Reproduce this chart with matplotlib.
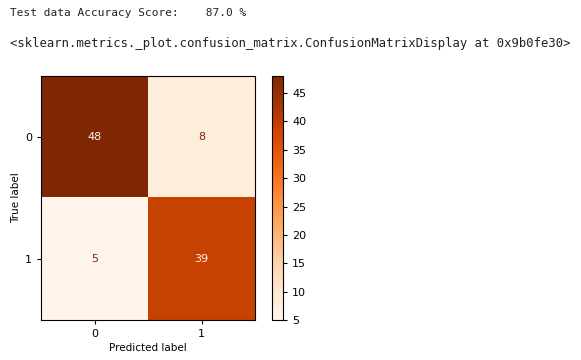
import numpy as np
import matplotlib
matplotlib.use("Agg")
import matplotlib.pyplot as plt

header_line1 = "Test data Accuracy Score:    87.0 %"
header_line2 = "<sklearn.metrics._plot.confusion_matrix.ConfusionMatrixDisplay at 0x9b0fe30>"
class_labels = ["0", "1"]
cm = np.array([[48, 8],
               [5, 39]])
cbar_ticks = [5, 10, 15, 20, 25, 30, 35, 40, 45]

W, H = 581, 360
fig = plt.figure(figsize=(W / 100, H / 100), dpi=100)

fig.text(10 / W, 1 - 13 / H, header_line1, family="DejaVu Sans Mono", fontsize=8,
         va="center", ha="left", color="#222222")
fig.text(10 / W, 1 - 43 / H, header_line2, family="DejaVu Sans Mono", fontsize=8.8,
         va="center", ha="left", color="#222222")

ax = fig.add_axes([41 / W, 1 - 320 / H, 214 / W, 244 / H])
cmap = plt.get_cmap("Oranges")
im = ax.imshow(cm, cmap=cmap, aspect="auto", vmin=cm.min(), vmax=cm.max())
thresh = (cm.max() + cm.min()) / 2
for i in range(cm.shape[0]):
    for j in range(cm.shape[1]):
        c = cmap(0.0) if cm[i, j] > thresh else cmap(1.0)
        ax.text(j, i, str(cm[i, j]), ha="center", va="center", color=c, fontsize=8)
ax.set_xticks(range(len(class_labels)))
ax.set_xticklabels(class_labels)
ax.set_yticks(range(len(class_labels)))
ax.set_yticklabels(class_labels)
ax.set_xlabel("Predicted label", fontsize=7.5, labelpad=3)
ax.set_ylabel("True label", fontsize=7.5, labelpad=3)
ax.tick_params(labelsize=8, length=3)

cax = fig.add_axes([272 / W, 1 - 320 / H, 11 / W, 244 / H])
cb = fig.colorbar(im, cax=cax, ticks=cbar_ticks)
cb.ax.tick_params(labelsize=8, length=3)
cb.outline.set_linewidth(0.8)

fig.savefig("out.png", dpi=100)
